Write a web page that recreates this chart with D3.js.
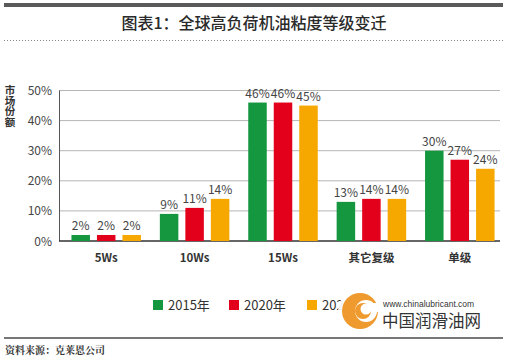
<!DOCTYPE html>
<html><head><meta charset="utf-8">
<script src="https://cdn.jsdelivr.net/npm/d3@7"></script>
<style>body{margin:0;background:#fff}svg{display:block}</style>
</head><body>
<script>
const categories = ["5Ws","10Ws","15Ws","其它复级","单级"];
const seriesNames = ["2015年","2020年","2025年"];
const v2015 = [2,9,46,13,30];
const v2020 = [2,11,46,14,27];
const v2025 = [2,14,45,14,24];
const yTicks = [0,10,20,30,40,50];
const yTitle = "市场份额";
const colors = ["#14973f","#e3001b","#f6a800"];
const seriesValues = [v2015,v2020,v2025];

const W=509,H=358;
const svg=d3.select("body").append("svg").attr("width",W).attr("height",H);
const font="'Noto Sans CJK SC','Noto Sans',sans-serif";

// header
svg.append("rect").attr("x",4).attr("y",3).attr("width",499).attr("height",4).attr("fill","#5a5a5a");
svg.append("text").attr("x",254).attr("y",29).attr("text-anchor","middle").attr("font-family",font)
  .attr("font-size",16).attr("font-weight",500).attr("fill","#2a2a2a").text("图表1：全球高负荷机油粘度等级变迁");
svg.append("line").attr("x1",4).attr("x2",503).attr("y1",40.5).attr("y2",40.5)
  .attr("stroke","#888").attr("stroke-width",1).attr("stroke-dasharray","1,2");

const x=d3.scaleBand().domain(categories).range([62,504]);
const y=d3.scaleLinear().domain([0,50]).range([241,90.5]);

// grid
svg.append("g").selectAll("line").data(yTicks.filter(d=>d>0)).join("line")
  .attr("x1",59).attr("x2",500).attr("y1",d=>y(d)).attr("y2",d=>y(d))
  .attr("stroke","#b5b5b5").attr("stroke-width",1);
svg.append("line").attr("x1",59.5).attr("x2",59.5).attr("y1",y(50)).attr("y2",y(0)).attr("stroke","#555");
svg.append("line").attr("x1",59).attr("x2",500).attr("y1",y(0)).attr("y2",y(0)).attr("stroke","#333").attr("stroke-width",1.5);

svg.append("g").selectAll("text").data(yTicks).join("text")
  .attr("x",52).attr("y",d=>y(d)+4.5).attr("text-anchor","end").attr("font-family",font)
  .attr("font-size",12).attr("fill","#444").text(d=>d+"%");

// y title (vertical writing mode, single text)
svg.append("text").attr("x",10).attr("y",85).attr("font-family",font).attr("font-size",10.5)
  .attr("font-weight","bold").attr("fill","#333").style("writing-mode","vertical-rl")
  .attr("text-anchor","start").text(yTitle);

const bw=18.5, step=25.5;
seriesValues.forEach((vals,s)=>{
  const off=(s-1)*step;
  const g=svg.append("g");
  g.selectAll("rect").data(vals).join("rect")
    .attr("x",(d,i)=>x(categories[i])+x.bandwidth()/2+off-bw/2)
    .attr("width",bw).attr("y",d=>y(d)).attr("height",d=>y(0)-y(d)).attr("fill",colors[s]);
  g.selectAll("text").data(vals).join("text")
    .attr("x",(d,i)=>x(categories[i])+x.bandwidth()/2+off)
    .attr("y",d=>y(d)-5).attr("text-anchor","middle").attr("font-family",font)
    .attr("font-size",12).attr("fill","#444").text(d=>d+"%");
});

svg.append("g").selectAll("text").data(categories).join("text")
  .attr("x",d=>x(d)+x.bandwidth()/2).attr("y",262).attr("text-anchor","middle")
  .attr("font-family",font).attr("font-size",11.5).attr("font-weight","bold").attr("fill","#333").text(d=>d);

// legend
const legX=[153,229,307];
seriesNames.forEach((n,i)=>{
  svg.append("rect").attr("x",legX[i]).attr("y",300).attr("width",10).attr("height",10).attr("fill",colors[i]);
  svg.append("text").attr("x",legX[i]+15).attr("y",310).attr("font-family",font).attr("font-size",13)
    .attr("fill","#333").text(n);
});

// watermark
const wm=svg.append("g");
wm.append("circle").attr("cx",360).attr("cy",311).attr("r",22).attr("fill","#fff").attr("opacity",0.9);
wm.append("circle").attr("cx",360).attr("cy",311).attr("r",18).attr("fill","#ef9a2e");
wm.append("circle").attr("cx",366).attr("cy",311).attr("r",11).attr("fill","#fff");
wm.append("circle").attr("cx",363).attr("cy",311).attr("r",8).attr("fill","#ef9a2e");
wm.append("circle").attr("cx",366).attr("cy",309).attr("r",5.5).attr("fill","#fff");
wm.append("rect").attr("x",372).attr("y",303).attr("width",8).attr("height",9).attr("fill","#fff");
wm.append("text").attr("x",383).attr("y",307).attr("font-family","'Liberation Sans',Arial,sans-serif")
  .attr("font-size",8.5).attr("fill","#333").text("www.chinalubricant.com");
wm.append("text").attr("x",382).attr("y",327).attr("font-family",font)
  .attr("font-size",16.5).attr("fill","#333").text("中国润滑油网");

// footer
svg.append("rect").attr("x",4).attr("y",337).attr("width",499).attr("height",2).attr("fill","#777");
svg.append("text").attr("x",5).attr("y",354).attr("font-family","'Noto Serif CJK SC','Noto Sans CJK SC',serif")
  .attr("font-size",10).attr("font-weight","bold").attr("fill","#333").text("资料来源：克莱恩公司");
</script>
</body></html>
